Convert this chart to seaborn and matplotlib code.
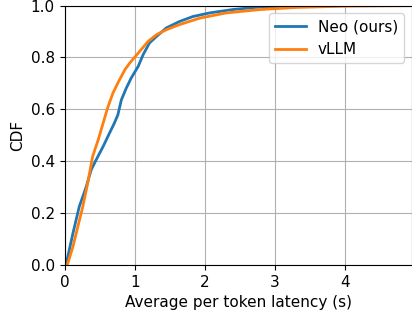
import matplotlib
matplotlib.use("Agg")
import matplotlib.pyplot as plt
import seaborn as sns
import pandas as pd

neo_x = [0.02, 0.12, 0.21, 0.31, 0.38, 0.45, 0.55, 0.64, 0.71, 0.76, 0.81, 0.88, 0.95,
         1.05, 1.12, 1.21, 1.31, 1.45, 1.64, 1.83, 2.07, 2.40, 2.79, 3.3, 4.0, 4.95]
neo_y = [0.0, 0.122, 0.225, 0.302, 0.367, 0.405, 0.457, 0.508, 0.547, 0.579, 0.637, 0.682, 0.721,
         0.766, 0.811, 0.856, 0.881, 0.914, 0.939, 0.958, 0.972, 0.985, 0.995, 0.998, 1.0, 1.0]

vllm_x = [0.04, 0.12, 0.19, 0.26, 0.33, 0.40, 0.48, 0.55, 0.62, 0.69, 0.76, 0.86, 0.93,
          1.05, 1.19, 1.31, 1.45, 1.64, 1.93, 2.31, 2.79, 3.3, 4.0, 4.95]
vllm_y = [0.0, 0.071, 0.148, 0.225, 0.315, 0.418, 0.483, 0.547, 0.611, 0.663, 0.702, 0.753, 0.779,
          0.817, 0.862, 0.888, 0.907, 0.927, 0.952, 0.972, 0.985, 0.993, 0.998, 1.0]

labels = ["Neo (ours)", "vLLM"]

df = pd.concat([
    pd.DataFrame({"x": neo_x, "y": neo_y, "system": labels[0]}),
    pd.DataFrame({"x": vllm_x, "y": vllm_y, "system": labels[1]}),
])

plt.rcParams["font.size"] = 11
fig = plt.figure(figsize=(4.12, 3.21), dpi=100)
ax = fig.add_axes([0.1566, 0.1745, 0.8434, 0.808])
sns.lineplot(data=df, x="x", y="y", hue="system", ax=ax, sort=False,
             estimator=None, palette=["#1f77b4", "#ff7f0e"], linewidth=2)
ax.set_xlim(0, 4.95)
ax.set_ylim(0, 1.0)
ax.set_xticks([0, 1, 2, 3, 4])
ax.set_yticks([0.0, 0.2, 0.4, 0.6, 0.8, 1.0])
ax.grid(True, color="#b0b0b0", linewidth=0.8)
ax.set_xlabel("Average per token latency (s)")
ax.set_ylabel("CDF")
ax.legend(title=None, loc="upper right")
fig.savefig("out.png", dpi=100)
